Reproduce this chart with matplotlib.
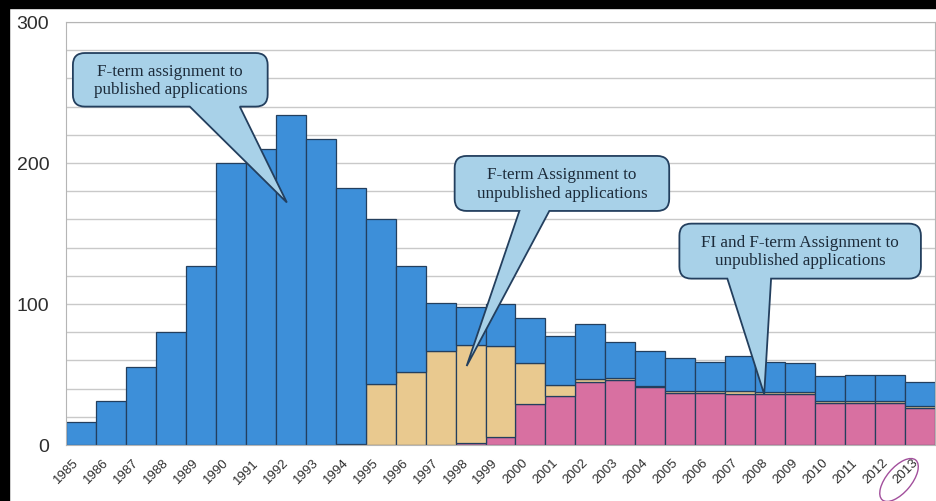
import matplotlib.pyplot as plt
import numpy as np
from matplotlib.patches import PathPatch, Ellipse, Rectangle
from matplotlib.path import Path
from matplotlib.transforms import IdentityTransform

# Year labels and stacked series (bottom -> top)
years = [str(y) for y in range(1985, 2014)]
fi_fterm_unpub = [0, 0, 0, 0, 0, 0, 0, 0, 0, 0, 0, 0, 0,
                  1.5, 6, 29, 35, 45, 46, 41, 37, 37, 36, 36, 36, 30, 30, 30, 26]
fterm_unpub = [0, 0, 0, 0, 0, 0, 0, 0, 0,
               1, 43, 52, 67, 69.5, 64.5, 29, 7.5, 2, 1.5, 1, 1.5, 1, 2, 1.5,
               1.5, 1.5, 1.5, 1.5, 1.5]
fterm_pub = [16, 31, 55, 80, 127, 200, 210, 234, 217, 181, 117, 75, 34, 27, 29.5,
             32, 34.5, 39, 25.5, 25, 23.5, 21, 25, 21.5, 20.5, 17.5, 18.5, 18.5, 17.5]

# Callout texts with box extents (x0, x1, y0, y1), pointer base and tip in data units
callout_texts = ["F-term assignment to\npublished applications",
                 "F-term Assignment to\nunpublished applications",
                 "FI and F-term Assignment to\nunpublished applications"]
callout_boxes = [(-0.27, 6.23, 240, 278), (12.47, 19.63, 166, 205), (19.97, 28.03, 118, 157)]
callout_bases = [(3.63, 5.3), (14.63, 15.63), (21.57, 23.03)]
callout_tips = [(6.87, 172), (12.87, 56), (22.8, 36)]

edge = '#233f5e'
colors = {'pink': '#d870a1', 'tan': '#e9c98f', 'blue': '#3d8fd9'}

fig = plt.figure(figsize=(9.37, 5.02), dpi=100)
ax = fig.add_axes([66 / 937, 1 - 446 / 502, (935 - 66) / 937, (446 - 23) / 502])

x = np.arange(len(years))
pink = np.array(fi_fterm_unpub)
tan = np.array(fterm_unpub)
blue = np.array(fterm_pub)
ax.bar(x, pink, width=1.0, color=colors['pink'], edgecolor=edge, linewidth=0.9)
ax.bar(x, tan, width=1.0, bottom=pink, color=colors['tan'], edgecolor=edge, linewidth=0.9)
ax.bar(x, blue, width=1.0, bottom=pink + tan, color=colors['blue'], edgecolor=edge, linewidth=0.9)

ax.set_xlim(-0.5, len(years) - 0.5)
ax.set_ylim(0, 300)
ax.set_yticks([0, 100, 200, 300])
ax.set_yticks(np.arange(0, 301, 20), minor=True)
ax.yaxis.grid(True, which='both', color='#c9c9c9', linewidth=1.0)
ax.set_axisbelow(True)
ax.set_xticks(x)
ax.set_xticklabels(years, rotation=45, ha='right', va='top',
                   fontsize=9.5, color='#2e2e2e', family='Liberation Sans')
ax.tick_params(axis='x', length=0, pad=8)
ax.tick_params(axis='y', which='both', length=0, pad=12, labelsize=14, labelcolor='#2e2e2e')
for label in ax.get_yticklabels():
    label.set_family('Liberation Sans')
for side in ['left', 'right', 'top', 'bottom']:
    ax.spines[side].set_color('#b5b5b5')

# Speech-bubble callouts, built in display pixels so corners stay round
r = 12
for text, box, base, tip in zip(callout_texts, callout_boxes, callout_bases, callout_tips):
    L, B = ax.transData.transform((box[0], box[2]))
    R, T = ax.transData.transform((box[1], box[3]))
    xa = ax.transData.transform((base[0], 0))[0]
    xb = ax.transData.transform((base[1], 0))[0]
    tx, ty = ax.transData.transform(tip)
    verts = [(L + r, B), (xa, B), (tx, ty), (xb, B), (R - r, B),
             (R, B), (R, B + r), (R, T - r), (R, T), (R - r, T),
             (L + r, T), (L, T), (L, T - r), (L, B + r), (L, B), (L + r, B), (L + r, B)]
    codes = [Path.MOVETO, Path.LINETO, Path.LINETO, Path.LINETO, Path.LINETO,
             Path.CURVE3, Path.CURVE3, Path.LINETO, Path.CURVE3, Path.CURVE3,
             Path.LINETO, Path.CURVE3, Path.CURVE3, Path.LINETO, Path.CURVE3, Path.CURVE3,
             Path.CLOSEPOLY]
    ax.add_patch(PathPatch(Path(verts, codes), facecolor='#a8d1e8', edgecolor=edge,
                           linewidth=1.3, transform=IdentityTransform(), clip_on=False,
                           zorder=5))
    ax.text((box[0] + box[1]) / 2, (box[2] + box[3]) / 2, text, ha='center', va='center',
            fontsize=12.3, family='Liberation Serif', color='#1c2b3a', linespacing=1.2,
            zorder=6)

# Hand-drawn circle around the last year label
cx, cy = ax.transData.transform((len(years) - 1, 0))
ax.add_patch(Ellipse((cx - 21, cy - 35), 52, 25, angle=50, fill=False,
                     edgecolor='#a24f9c', linewidth=1.0, transform=IdentityTransform(),
                     clip_on=False, zorder=6))

# Dark scan border along top and left edges
fig.add_artist(Rectangle((0, 0), 9 / 937, 1, transform=fig.transFigure,
                         color='black', zorder=10))
fig.add_artist(Rectangle((0, 1 - 9 / 502), 1, 9 / 502, transform=fig.transFigure,
                         color='black', zorder=10))

fig.savefig('out.png', dpi=100)
